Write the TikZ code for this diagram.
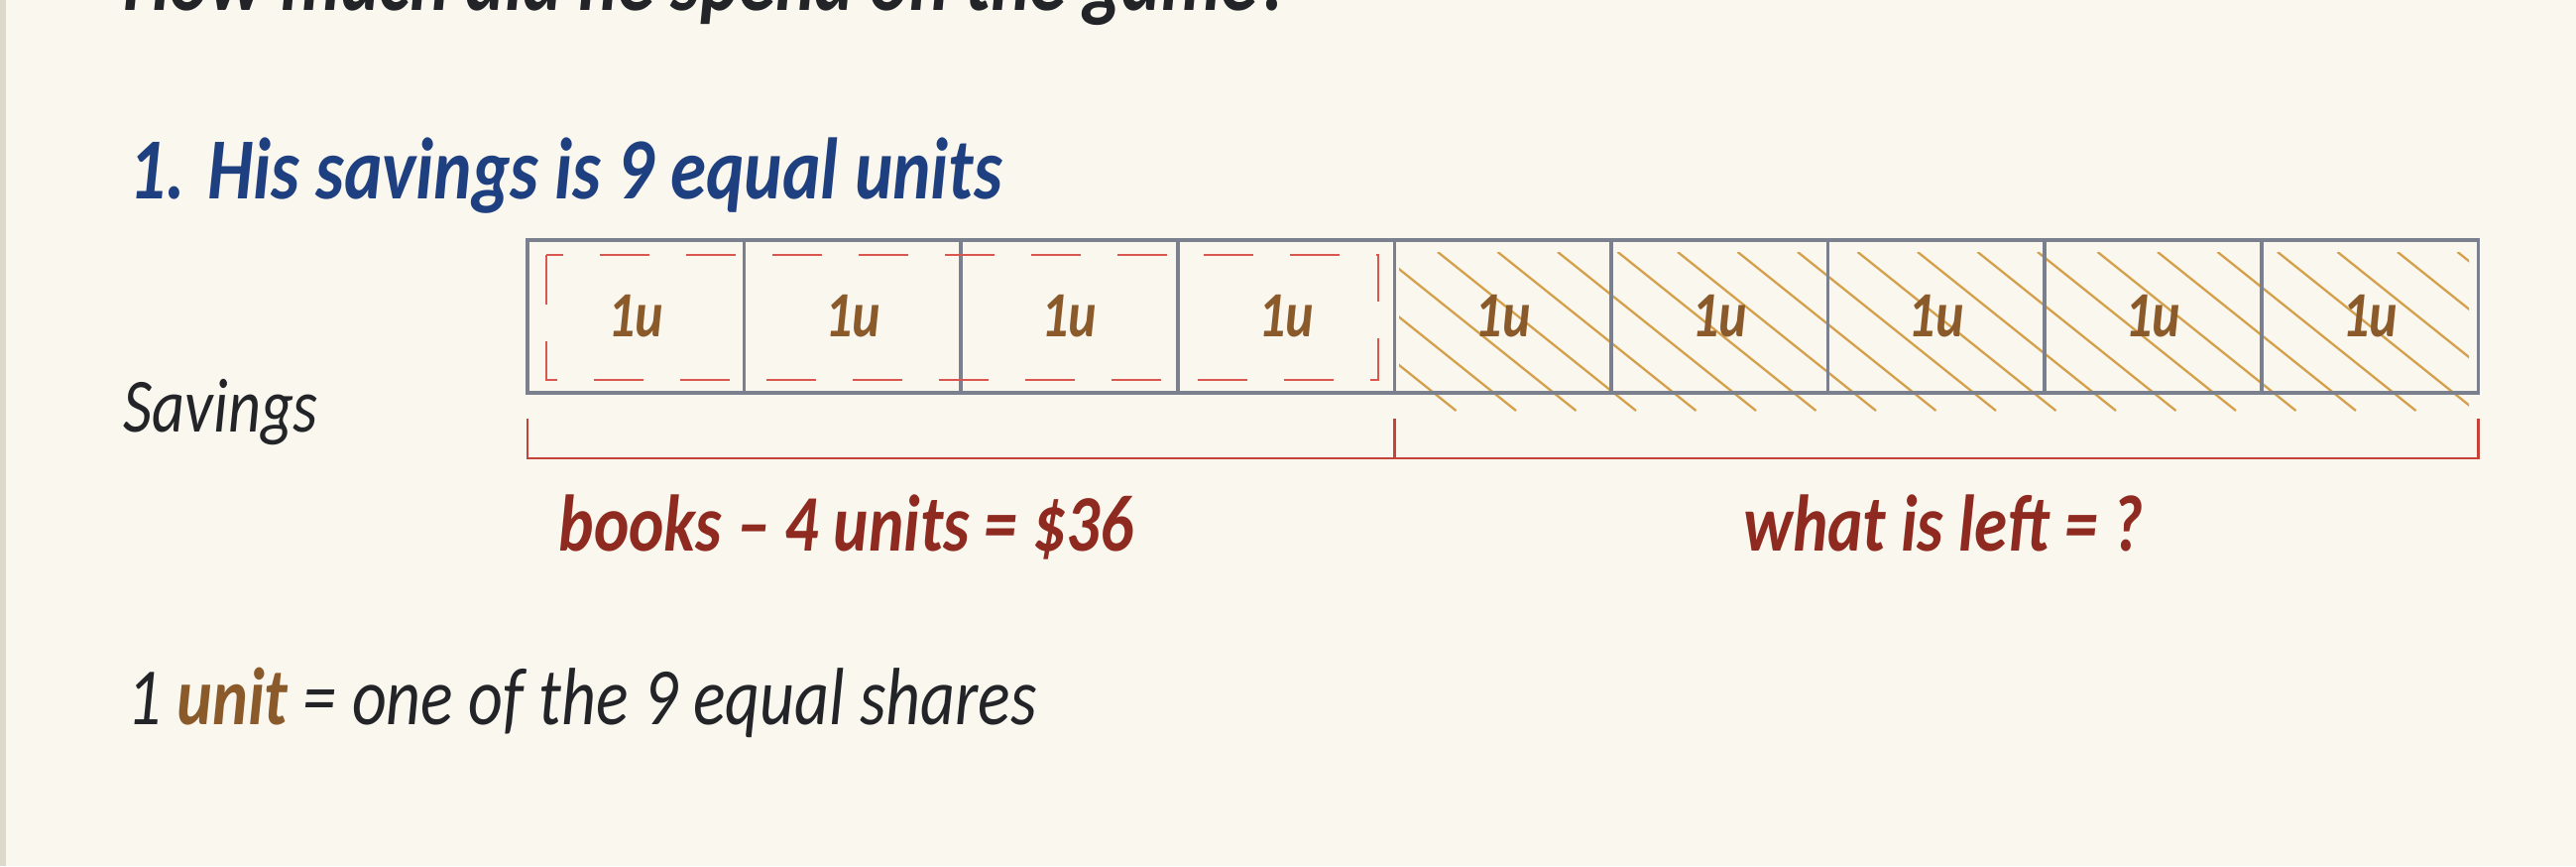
\documentclass[tikz,border=0pt]{standalone}
\usepackage{fontspec}
\setmainfont{Carlito}[FakeStretch=0.83]
\usetikzlibrary{calc}
\definecolor{bg}{HTML}{FAF7EF}
\definecolor{strip}{HTML}{DCD9CB}
\definecolor{ink}{HTML}{222427}
\definecolor{headblue}{HTML}{1E4080}
\definecolor{brownc}{HTML}{8B5A2B}
\definecolor{darkred}{HTML}{8E2A1F}
\definecolor{bracketred}{HTML}{C4443A}
\definecolor{dashred}{HTML}{D9574F}
\definecolor{boxc}{HTML}{7A808E}
\definecolor{hatchc}{HTML}{D4A04C}
\begin{document}
\begin{tikzpicture}[x=0.1mm,y=-0.1mm,
  unitbox/.style={draw=boxc, line width=1pt, minimum width=21.86mm, minimum height=15.4mm, inner sep=0pt, outer sep=0pt, text=brownc, font=\fontsize{18.5}{20}\selectfont\bfseries\itshape},
  hatchline/.style={draw=hatchc, line width=0.65pt},
  reddash/.style={draw=dashred, line width=0.6pt, dash pattern=on 5mm off 3.7mm},
  bracketline/.style={draw=bracketred, line width=0.75pt},
  headtxt/.style={anchor=base west, inner sep=0pt, text=headblue, font=\fontsize{25}{30}\selectfont\bfseries\itshape},
  toptxt/.style={anchor=base west, inner sep=0pt, text=ink, font=\fontsize{25.6}{30}\selectfont\bfseries\itshape},
  plaintxt/.style={anchor=base west, inner sep=0pt, text=ink, font=\fontsize{22}{26}\selectfont\itshape},
  deftxt/.style={anchor=base west, inner sep=0pt, text=ink, font=\fontsize{23.3}{28}\selectfont\itshape},
  redtxt/.style={inner sep=0pt, text=darkred, font=\fontsize{23}{27}\selectfont\bfseries\itshape}
]
\useasboundingbox (0,0) rectangle (2598,873);
\clip (0,0) rectangle (2598,873);
\fill[bg] (0,0) rectangle (2598,873);
\fill[strip] (0,0) rectangle (6,873);

% question (cut off at the top, as in the reference)
\node[toptxt] (question) at (124,10) {How much did he spend on the game?};

% heading
\node[headtxt] (heading) at (130,200) {1. His savings is 9 equal units};

% label
\node[plaintxt] (savings) at (124,435) {Savings};

% hatching of the last five units
\begin{scope}
  \clip (1411,254) rectangle (2490,414);
  \foreach \k in {-4,...,18} {
    \draw[hatchline] ({1450+60.5*\k},254) -- ++(200,160);
  }
\end{scope}

% unit boxes
\node[unitbox, anchor=west] (u1) at (532,319) {1u};
\node[unitbox, anchor=west] (u2) at (u1.east) {1u};
\node[unitbox, anchor=west] (u3) at (u2.east) {1u};
\node[unitbox, anchor=west] (u4) at (u3.east) {1u};
\node[unitbox, anchor=west] (u5) at (u4.east) {1u};
\node[unitbox, anchor=west] (u6) at (u5.east) {1u};
\node[unitbox, anchor=west] (u7) at (u6.east) {1u};
\node[unitbox, anchor=west] (u8) at (u7.east) {1u};
\node[unitbox, anchor=west] (u9) at (u8.east) {1u};

% dashed outline of the books part
\draw[reddash] ($(u1.north west)+(19,15)$) rectangle ($(u4.south east)+(-16,-13)$);

% bracket
\coordinate (bL) at ($(u1.south west)+(0,26)$);
\coordinate (bM) at ($(u4.south east)+(0,26)$);
\coordinate (bR) at ($(u9.south east)+(0,26)$);
\draw[bracketline] (bL) -- ++(0,40) -| (bR);
\draw[bracketline] (bM) -- ++(0,40);

% bracket labels
\node[redtxt, anchor=base west] (books) at (563,555) {books – 4 units = \$36};
\node[redtxt, anchor=base] (left) at (1960,555) {what is left = ?};

% definition
\node[deftxt] (def) at (128,730) {1 \textcolor{brownc}{\bfseries unit} = one of the 9 equal shares};
\end{tikzpicture}
\end{document}
